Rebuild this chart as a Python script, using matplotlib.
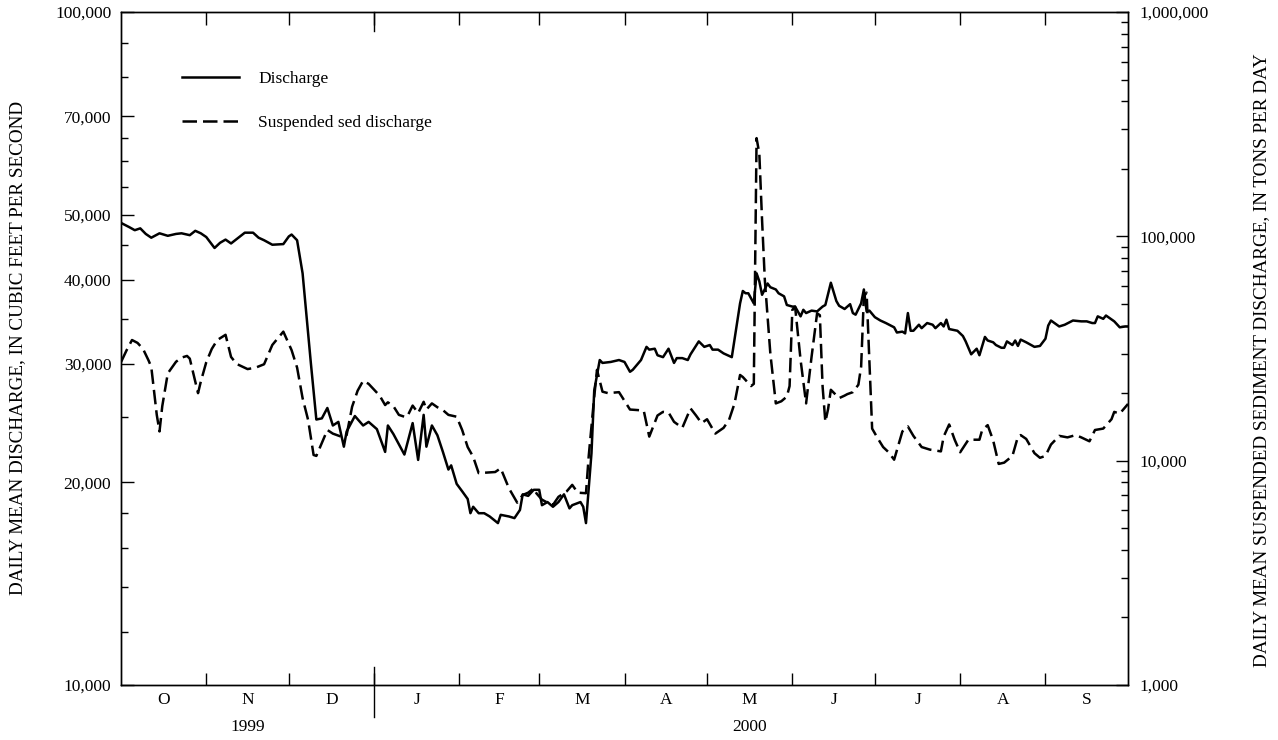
import matplotlib
matplotlib.use("Agg")
import matplotlib.pyplot as plt
from matplotlib.ticker import FixedLocator, FuncFormatter, NullFormatter, LogLocator
from matplotlib.lines import Line2D

plt.rcParams['font.family'] = ['Liberation Serif', 'DejaVu Serif']

# water year 2000: day 0 = Oct 1, 1999
month_letters = ['O', 'N', 'D', 'J', 'F', 'M', 'A', 'M', 'J', 'J', 'A', 'S']
month_days = [31, 30, 31, 31, 29, 31, 30, 31, 30, 31, 31, 30]

# daily mean discharge, cfs (left axis)
q_day = [0, 3, 5, 7, 9, 11, 14, 17, 20, 22, 25, 27, 29, 31, 34, 36, 38, 40, 43, 45,
         48, 50, 52, 55, 59, 61, 62, 64, 66, 69, 71, 73, 75, 77, 79, 81, 82, 85, 88, 90,
         93, 96, 97, 99, 103, 106, 108, 110, 111, 113, 115, 117, 119, 120, 122, 124, 126, 127, 128, 130,
         132, 134, 137, 138, 141, 143, 145, 146, 148, 150, 152, 153, 155, 157, 159, 161, 163, 164, 167, 168,
         169, 171, 172, 174, 175, 178, 181, 183, 185, 186, 189, 191, 192, 194, 195, 197, 199, 201, 202, 204,
         206, 207, 210, 212, 214, 215, 217, 219, 222, 225, 226, 227, 228, 230, 231, 232, 233, 235, 236, 238,
         239, 241, 242, 244, 245, 247, 248, 249, 251, 253, 255, 256, 258, 260, 261, 263, 265, 266, 267, 269,
         270, 271, 272, 274, 276, 278, 281, 282, 284, 285, 286, 287, 288, 290, 291, 293, 295, 296, 298, 299,
         300, 301, 304, 306, 307, 309, 311, 312, 314, 315, 317, 318, 320, 321, 322, 324, 325, 326, 327, 329,
         332, 334, 336, 337, 338, 341, 343, 346, 349, 351, 353, 354, 355, 357, 358, 361, 363, 365, 366]
q_cfs = [48600, 47900, 47400, 47700, 46800, 46200, 46900, 46500, 46800, 46900, 46600, 47300, 46900, 46300, 44600, 45400, 45900, 45300, 46300, 47000,
         47000, 46200, 45800, 45100, 45200, 46400, 46700, 45800, 40900, 30100, 24800, 24900, 25800, 24300, 24600, 22600, 23800, 25100, 24300, 24600,
         24000, 22200, 24300, 23600, 22000, 24500, 21600, 25200, 22600, 24300, 23500, 22200, 20900, 21200, 19900, 19400, 18900, 18000, 18400, 18000,
         18000, 17800, 17400, 17900, 17800, 17700, 18200, 19200, 19100, 19500, 19500, 18500, 18700, 18400, 18700, 19200, 18300, 18500, 18700, 18400,
         17400, 22100, 27400, 30400, 30100, 30200, 30400, 30200, 29200, 29400, 30400, 31800, 31500, 31600, 30900, 30700, 31600, 30100, 30600, 30600,
         30400, 31000, 32400, 31800, 32000, 31500, 31500, 31100, 30700, 36900, 38500, 38200, 38200, 36900, 40900, 39800, 38000, 39500, 39000, 38700,
         38200, 37800, 36700, 36500, 36500, 35300, 36100, 35700, 36000, 35900, 36500, 36700, 39600, 37200, 36600, 36200, 36800, 35700, 35500, 36900,
         38700, 35900, 36000, 35200, 34800, 34500, 34000, 33400, 33500, 33300, 35700, 33600, 33600, 34300, 33900, 34500, 34300, 33900, 34500, 34100,
         34900, 33800, 33600, 33000, 32400, 31000, 31600, 30900, 32900, 32500, 32300, 32000, 31700, 31700, 32400, 32000, 32500, 31900, 32600, 32300,
         31800, 31900, 32700, 34200, 34800, 34100, 34300, 34800, 34700, 34700, 34500, 34500, 35300, 35000, 35400, 34700, 34000, 34100, 34100]

# daily mean suspended sediment discharge, tons/day (right axis)
s_day = [0, 2, 4, 6, 8, 10, 11, 13, 14, 15, 17, 20, 22, 24, 25, 28, 29, 31, 33, 35,
         38, 40, 42, 46, 49, 52, 55, 59, 62, 64, 66, 68, 70, 71, 73, 75, 77, 80, 82, 84,
         86, 88, 90, 92, 94, 96, 97, 99, 101, 103, 104, 106, 108, 110, 111, 113, 115, 117, 119, 122,
         124, 126, 128, 130, 133, 136, 138, 141, 144, 146, 148, 150, 151, 153, 155, 157, 159, 162, 164, 166,
         169, 170, 172, 173, 175, 177, 181, 185, 188, 190, 192, 195, 197, 199, 201, 204, 207, 209, 211, 213,
         216, 219, 221, 223, 225, 226, 229, 230, 231, 232, 233, 234, 236, 238, 240, 242, 243, 244, 245, 247,
         249, 251, 253, 254, 255, 256, 257, 258, 261, 263, 264, 266, 268, 269, 270, 271, 272, 273, 275, 277,
         279, 281, 284, 286, 288, 291, 294, 298, 299, 301, 303, 305, 308, 312, 313, 315, 317, 319, 321, 324,
         326, 327, 329, 332, 334, 336, 338, 341, 344, 347, 349, 352, 354, 357, 360, 361, 363, 366]
s_tons = [27500, 31000, 34500, 33500, 31500, 28000, 26200, 16000, 13500, 17500, 24500, 27600, 28800, 29300, 28500, 20000, 22500, 27500, 31500, 34500,
          36400, 29000, 27000, 25600, 26000, 26900, 32800, 37600, 31100, 26000, 19000, 15200, 10600, 10500, 12000, 13700, 13200, 12800, 13000, 17400,
          20500, 22700, 22000, 20700, 19500, 17700, 18200, 17500, 16000, 15700, 15700, 17600, 16300, 18300, 16900, 18000, 17300, 16800, 16000, 15700,
          13700, 11500, 10400, 8800, 8850, 8900, 9250, 7530, 6500, 7030, 7200, 7530, 7150, 6700, 6500, 6350, 6900, 7300, 7800, 7200,
          7160, 10500, 19300, 25400, 20300, 20000, 20200, 16900, 16800, 16700, 12800, 15900, 16500, 16400, 14900, 14000, 17100, 15900, 14700, 15300,
          13200, 14000, 15200, 18000, 24100, 23600, 21500, 22000, 274000, 234000, 118000, 64000, 30100, 18000, 18400, 19300, 21500, 47000, 48600, 28100,
          18000, 29100, 45400, 44500, 21400, 14900, 17000, 20700, 19000, 19500, 19800, 20200, 21800, 26200, 54000, 56100, 28100, 13900, 12600, 11500,
          10900, 10100, 13500, 14200, 12900, 11500, 11200, 11000, 12800, 14500, 12400, 10900, 12400, 12400, 13700, 14400, 12300, 9670, 9800, 10500,
          12800, 13000, 12500, 10800, 10300, 10500, 11800, 12900, 12700, 13000, 12700, 12200, 13700, 13900, 15300, 16500, 16200, 17900]

left_labeled = [10000, 20000, 30000, 40000, 50000, 70000, 100000]
left_minor = [12000, 14000, 16000, 18000, 25000, 35000, 45000, 55000, 60000, 65000, 80000, 90000]

fs = 12.5
fig = plt.figure(figsize=(12.78, 7.4), dpi=100)
ax = fig.add_axes([121 / 1278, 1 - 685 / 740, (1128 - 121) / 1278, 673 / 740])
ax2 = ax.twinx()

ax.plot(q_day, q_cfs, color='black', lw=1.8, solid_joinstyle='round')
ax2.plot(s_day, s_tons, color='black', lw=1.8, dashes=(5.8, 2.4))

# left axis
ax.set_yscale('log')
ax.set_ylim(10000, 100000)
ax.yaxis.set_major_locator(FixedLocator(left_labeled))
ax.yaxis.set_minor_locator(FixedLocator(left_minor))
ax.yaxis.set_major_formatter(FuncFormatter(lambda v, p: f'{int(round(v)):,}'))
ax.yaxis.set_minor_formatter(NullFormatter())

# right axis
ax2.set_yscale('log')
ax2.set_ylim(1000, 1000000)
ax2.yaxis.set_major_locator(LogLocator(base=10))
ax2.yaxis.set_minor_locator(LogLocator(base=10, subs=range(2, 10)))
ax2.yaxis.set_major_formatter(FuncFormatter(lambda v, p: f'{int(round(v)):,}'))
ax2.yaxis.set_minor_formatter(NullFormatter())

# x axis: month boundaries and centres
bounds = [0]
for d in month_days:
    bounds.append(bounds[-1] + d)
centers = [(bounds[i] + bounds[i + 1]) / 2 for i in range(12)]
ax.set_xlim(0, bounds[-1])
ax.set_xticks(bounds[1:-1])
ax.set_xticklabels([])
ax.set_xticks(centers, minor=True)
ax.set_xticklabels(month_letters, minor=True)

ax.tick_params(axis='x', which='major', direction='in', length=9, width=1, top=True, bottom=True)
ax.tick_params(axis='x', which='minor', length=0, pad=5, labelsize=fs)
ax.tick_params(axis='y', which='major', direction='in', length=9, width=1, labelsize=fs, pad=7)
ax.tick_params(axis='y', which='minor', direction='in', length=5, width=1)
ax2.tick_params(axis='y', which='major', direction='in', length=9, width=1, labelsize=fs, pad=8)
ax2.tick_params(axis='y', which='minor', direction='in', length=5, width=1)

for a in (ax, ax2):
    for s in a.spines.values():
        s.set_linewidth(1.0)

# water-year boundary marks at Jan 1
xt = ax.get_xaxis_transform()
ax.plot([bounds[3], bounds[3]], [-0.048, 0.027], transform=xt, color='black', lw=1, clip_on=False)
ax.plot([bounds[3], bounds[3]], [1 - 0.028, 1], transform=xt, color='black', lw=1, clip_on=False)

ax.text((bounds[0] + bounds[3]) / 2, -0.05, '1999', transform=xt, ha='center', va='top', fontsize=fs)
ax.text(centers[7], -0.05, '2000', transform=xt, ha='center', va='top', fontsize=fs)

yl_fs = 13.8
fig.text(18 / 1278, 1 - 348 / 740, 'DAILY MEAN DISCHARGE, IN CUBIC FEET PER SECOND',
         rotation=90, ha='center', va='center', fontsize=yl_fs)
fig.text(1262 / 1278, 1 - 360 / 740, 'DAILY MEAN SUSPENDED SEDIMENT DISCHARGE, IN TONS PER DAY',
         rotation=90, ha='center', va='center', fontsize=yl_fs)

handles = [Line2D([], [], color='black', lw=1.8),
           Line2D([], [], color='black', lw=1.8, dashes=(5.8, 2.4))]
fig.legend(handles, ['Discharge', 'Suspended sed discharge'], loc='upper left',
           bbox_to_anchor=(182 / 1278, 1 - 71 / 740), frameon=False, fontsize=fs,
           handlelength=3.3, handletextpad=1.1, labelspacing=1.6, borderpad=0, borderaxespad=0)

fig.savefig('out.png', dpi=100)
